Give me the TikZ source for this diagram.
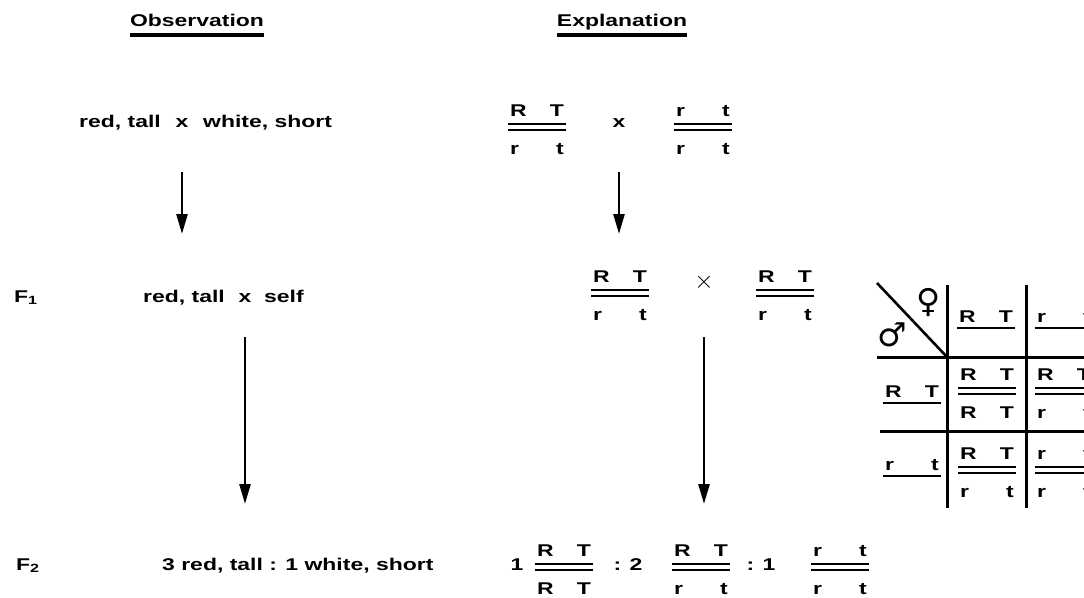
\documentclass[tikz,border=0pt]{standalone}
\usepackage{fontspec}
\setmainfont{Liberation Sans}[FakeStretch=1.35]
\newfontfamily\sexfont{DejaVu Sans}
\usetikzlibrary{arrows.meta,calc}

\newcommand{\gfont}{\fontsize{17}{20}\selectfont\bfseries}

\tikzset{
  lbl/.style={font=\gfont, inner sep=0pt, anchor=base},
  arr/.style={-{Triangle[length=20pt,width=11pt]}, line width=2.6pt},
  uline/.style={line width=3.5pt},
  gline/.style={line width=1.8pt},
  grid/.style={line width=3pt},
  sex/.style={font=\sexfont\fontsize{33}{33}\selectfont, inner sep=0pt},
  pics/gpair/.style n args={4}{code={
    \node[lbl, anchor=base west] (-a) at (-27,-11) {#1};
    \node[lbl, anchor=base east] (-b) at (27,-11) {#2};
    \draw[gline] (-29,-3) -- (29,-3) (-29,3) -- (29,3);
    \node[lbl, anchor=base west] (-c) at (-27,27) {#3};
    \node[lbl, anchor=base east] (-d) at (27,27) {#4};
  }},
  pics/gamete/.style 2 args={code={
    \node[lbl, anchor=base west] (-a) at (-27,0) {#1};
    \node[lbl, anchor=base east] (-b) at (27,0) {#2};
    \draw[gline] (-29,6) -- (29,6);
  }},
}

\begin{document}
\begin{tikzpicture}[x=1pt,y=-1pt]
  \useasboundingbox (0,0) rectangle (1084,597);
  \clip (0,0) rectangle (1084,597);

  % headings
  \node[lbl] (obs) at (197,26) {Observation};
  \node[lbl] (expl) at (622,26) {Explanation};
  \draw[uline] ($(obs.base west)+(0,9)$) -- ($(obs.base east)+(0,9)$);
  \draw[uline] ($(expl.base west)+(0,9)$) -- ($(expl.base east)+(0,9)$);

  % parents
  \node[lbl] (p0x) at (182,127) {x};
  \node[lbl, anchor=base east] (p0l) at (161,127) {red, tall};
  \node[lbl, anchor=base west] (p0r) at (203,127) {white, short};
  \pic (p0a) at (537,127) {gpair={R}{T}{r}{t}};
  \node[lbl] (p0c) at (619,127) {x};
  \pic (p0b) at (703,127) {gpair={r}{t}{r}{t}};

  % F1
  \node[lbl, anchor=base west] (f1) at (14,302) {F\textsubscript{1}};
  \node[lbl] (f1x) at (245,302) {x};
  \node[lbl, anchor=base east] (f1l) at (225,302) {red, tall};
  \node[lbl, anchor=base west] (f1r) at (264,302) {self};
  \pic (f1a) at (620,293) {gpair={R}{T}{r}{t}};
  \node[inner sep=0pt] (f1c) at (704,282) {\fontsize{38}{38}\selectfont$\times$};
  \pic (f1b) at (785,293) {gpair={R}{T}{r}{t}};

  % Punnett square
  \draw[line width=2.6pt] (877,283) -- (947,357);
  \draw[grid] (877,357) -- (1100,357);
  \draw[grid] (880,431) -- (1100,431);
  \draw[grid] (947,285) -- (947,508);
  \draw[grid] (1026,285) -- (1026,508);
  \node[sex] (fem) at (929,302) {♀};
  \node[sex] (mal) at (892,335) {♂};
  \pic (gf1) at (986,322) {gamete={R}{T}};
  \pic (gf2) at (1064,322) {gamete={r}{t}};
  \pic (gm1) at (912,397) {gamete={R}{T}};
  \pic (gm2) at (912,470) {gamete={r}{t}};
  \pic (z11) at (987,391) {gpair={R}{T}{R}{T}};
  \pic (z12) at (1064,391) {gpair={R}{T}{r}{t}};
  \pic (z21) at (987,470) {gpair={R}{T}{r}{t}};
  \pic (z22) at (1064,470) {gpair={r}{t}{r}{t}};

  % F2
  \node[lbl, anchor=base west] (f2) at (16,570) {F\textsubscript{2}};
  \node[lbl, anchor=base west] (f2t) at (162,570) {3 red, tall : 1 white, short};
  \node[lbl] (n1) at (517,570) {1};
  \pic (g1) at (564,567) {gpair={R}{T}{R}{T}};
  \node[lbl] (n2) at (628,570) {: 2};
  \pic (g2) at (701,567) {gpair={R}{T}{r}{t}};
  \node[lbl] (n3) at (761,570) {: 1};
  \pic (g3) at (840,567) {gpair={r}{t}{r}{t}};

  % arrows
  \coordinate (a1s) at (182,172);
  \coordinate (a1e) at (182,234);
  \coordinate (b1s) at (619,172);
  \coordinate (b1e) at (619,234);
  \coordinate (a2s) at (245,337);
  \coordinate (a2e) at (245,504);
  \coordinate (b2s) at (704,337);
  \coordinate (b2e) at (704,504);
  \draw[arr] (a1s) -- (a1e);
  \draw[arr] (b1s) -- (b1e);
  \draw[arr] (a2s) -- (a2e);
  \draw[arr] (b2s) -- (b2e);
\end{tikzpicture}
\end{document}
